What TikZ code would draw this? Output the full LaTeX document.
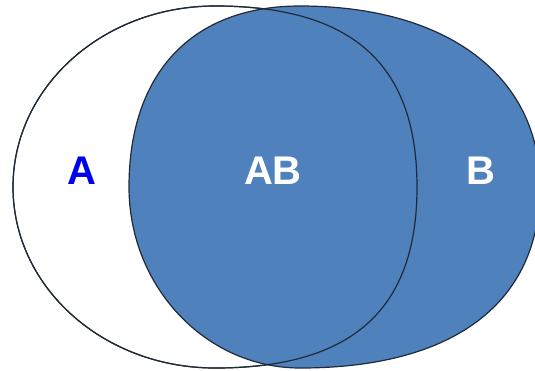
\documentclass[tikz,border=0pt]{standalone}
\usepackage{fontspec}
\setmainfont{Liberation Sans}
\definecolor{setblue}{HTML}{4F81BD}
\definecolor{edge}{HTML}{1F2A36}
\definecolor{labelblue}{RGB}{0,0,240}
\begin{document}
\begin{tikzpicture}[x=1pt,y=-1pt,
  setline/.style={draw=edge,line width=1.2pt},
  lbl/.style={font=\fontsize{40}{40}\selectfont\bfseries,inner sep=0pt}]
\useasboundingbox (0,0) rectangle (535,370);
\clip (0,0) rectangle (535,370);
\fill[white] (0,0) rectangle (535,370);
\def\setA{(13,187) .. controls (13,87) and (103,6) .. (215,6)
  .. controls (352,6) and (417,64) .. (417,187)
  .. controls (417,310) and (352,368) .. (215,368)
  .. controls (103,368) and (13,287) .. cycle}
\def\setB{(129,187) .. controls (129,73) and (192,6) .. (300,6)
  .. controls (447,6) and (540,76) .. (540,187)
  .. controls (540,303) and (454,368) .. (300,368)
  .. controls (206,368) and (129,287) .. cycle}
% set A
\path[setline,fill=white] \setA;
% set B
\path[setline,fill=setblue] \setB;
% A outline over B
\path[setline] \setA;
\node[lbl,text=labelblue] (la) at (82,171) {A};
\node[lbl,text=white] (lab) at (273,171) {AB};
\node[lbl,text=white] (lb) at (481,171) {B};
\end{tikzpicture}
\end{document}
